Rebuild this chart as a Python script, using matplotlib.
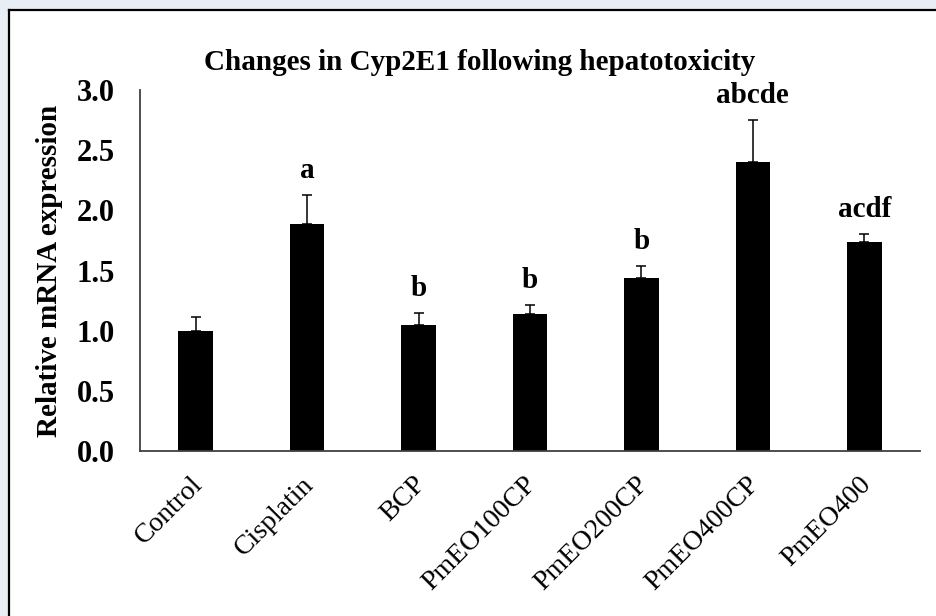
import matplotlib.pyplot as plt
import matplotlib.transforms as mtransforms
import numpy as np
from matplotlib.lines import Line2D

groups = ['Control', 'Cisplatin', 'BCP', 'PmEO100CP', 'PmEO200CP', 'PmEO400CP', 'PmEO400']
expression = [1.00, 1.89, 1.05, 1.14, 1.44, 2.40, 1.74]
sem = [0.11, 0.24, 0.10, 0.07, 0.10, 0.35, 0.06]
letters = ['', 'a', 'b', 'b', 'b', 'abcde', 'acdf']

plt.rcParams['font.family'] = ['Liberation Serif', 'DejaVu Serif']

fig = plt.figure(figsize=(9.36, 6.16), dpi=100)
ax = fig.add_axes([140 / 936, 1 - 451 / 616, 780 / 936, 361 / 616])

index = np.arange(len(groups))
ax.bar(index, expression, width=0.31, color='black')
ax.errorbar(index, expression, yerr=[np.zeros(len(sem)), sem], fmt='none',
            ecolor='black', elinewidth=1.1, capsize=3.5, capthick=1.1)

for i, lab in enumerate(letters):
    if lab:
        ax.annotate(lab, (index[i], expression[i] + sem[i]), xytext=(0, 8),
                    textcoords='offset points', ha='center', va='bottom',
                    fontsize=21, fontweight='bold')

ax.set_xlim(-0.5, len(groups) - 0.5)
ax.set_ylim(0, 3.0)
ax.set_yticks(np.arange(0, 3.01, 0.5))
ax.set_yticklabels(['%.1f' % v for v in np.arange(0, 3.01, 0.5)], fontsize=22, fontweight='bold')
ax.set_xticks(index)
ax.set_xticklabels(groups, fontsize=20, rotation=45, ha='right', va='top', rotation_mode='anchor')
ax.tick_params(axis='y', length=0, pad=18)
ax.tick_params(axis='x', length=0, pad=15)

# nudge the rotated labels a little to the left
shift = mtransforms.ScaledTranslation(-6 / 100, 0, fig.dpi_scale_trans)
for lbl in ax.get_xticklabels():
    lbl.set_transform(lbl.get_transform() + shift)

for s in ['top', 'right']:
    ax.spines[s].set_visible(False)
for s in ['left', 'bottom']:
    ax.spines[s].set_color('#404040')
    ax.spines[s].set_linewidth(1.3)

ax.set_ylabel('Relative mRNA expression', fontsize=21, fontweight='bold', labelpad=10)
fig.text(480 / 936, 1 - 62 / 616, 'Changes in Cyp2E1 following hepatotoxicity',
         ha='center', va='center', fontsize=21, fontweight='bold')

# screenshot frame (top and left edges)
fig.patches.append(plt.Rectangle((0, 1 - 8 / 616), 1, 8 / 616, transform=fig.transFigure,
                                 color='#e9eef4', zorder=0))
fig.patches.append(plt.Rectangle((0, 0), 8 / 936, 1, transform=fig.transFigure,
                                 color='#e9eef4', zorder=0))
fig.lines.append(Line2D([9 / 936, 1], [1 - 10 / 616, 1 - 10 / 616], transform=fig.transFigure,
                        color='black', linewidth=1.6))
fig.lines.append(Line2D([9 / 936, 9 / 936], [0, 1 - 10 / 616], transform=fig.transFigure,
                        color='black', linewidth=1.6))

fig.savefig('out.png', dpi=100)
